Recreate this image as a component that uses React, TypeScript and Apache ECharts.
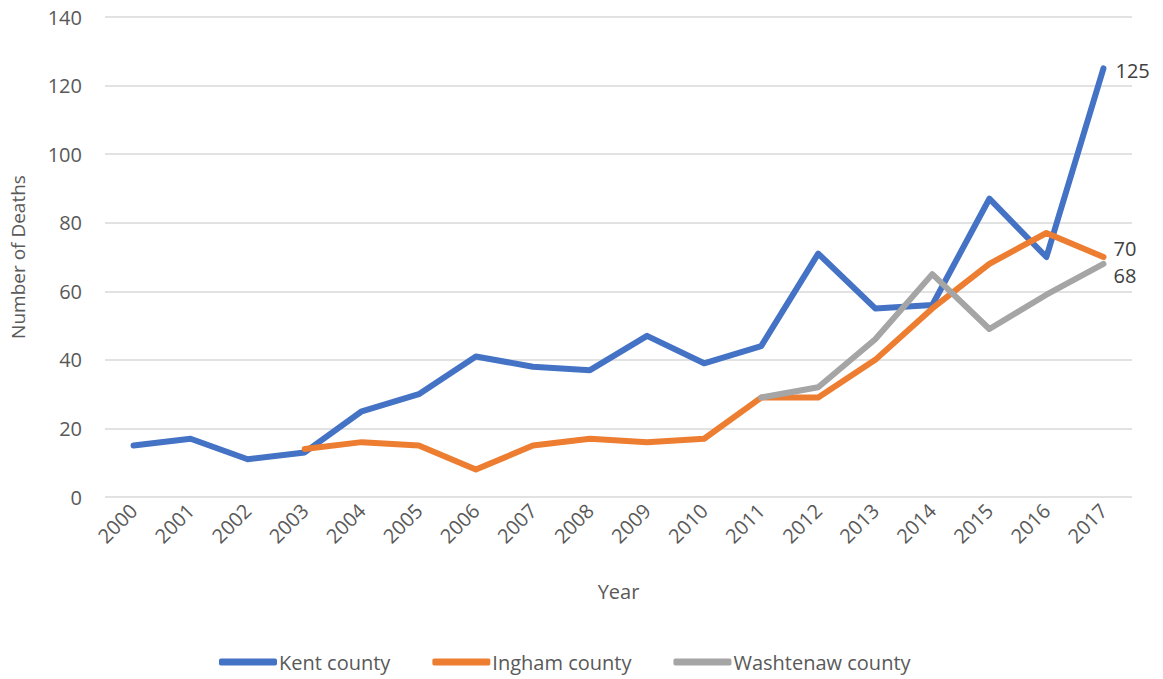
import React, { useEffect, useRef } from "react";
import * as echarts from "echarts";

const years = ["2000","2001","2002","2003","2004","2005","2006","2007","2008","2009","2010","2011","2012","2013","2014","2015","2016","2017"];
const kent = [15, 17, 11, 13, 25, 30, 41, 38, 37, 47, 39, 44, 71, 55, 56, 87, 70, 125];
const ingham = [null, null, null, 14, 16, 15, 8, 15, 17, 16, 17, 29, 29, 40, 55, 68, 77, 70];
const washtenaw = [null, null, null, null, null, null, null, null, null, null, null, 29, 32, 46, 65, 49, 59, 68];
const seriesNames = ["Kent county", "Ingham county", "Washtenaw county"];
const colors = ["#4472C4", "#ED7D31", "#A5A5A5"];

const FONT = "Open Sans";
const TXT = "#595959";

export default function App() {
  const ref = useRef<HTMLDivElement>(null);
  useEffect(() => {
    document.body.style.margin = "0";
    const chart = echarts.init(ref.current!, null, { renderer: "svg" });
    const datas = [kent, ingham, washtenaw];
    const offsets = [[4, 2], [2, -9], [2, 12]];
    chart.setOption({
      animation: false,
      textStyle: { fontFamily: FONT },
      grid: { left: 100, right: 31, top: 17, bottom: 182 },
      legend: {
        left: 214,
        top: 647,
        itemWidth: 58,
        itemHeight: 7,
        itemGap: 42,
        icon: "roundRect",
        textStyle: { color: TXT, fontSize: 20, fontFamily: FONT, padding: [0, 0, 0, -3] },
        data: seriesNames,
      },
      xAxis: {
        type: "category",
        data: years,
        boundaryGap: true,
        axisLine: { show: false },
        axisTick: { show: false },
        axisLabel: { rotate: 45, color: TXT, fontSize: 20, fontFamily: FONT, margin: 10 },
        name: "Year",
        nameLocation: "middle",
        nameGap: 84,
        nameTextStyle: { color: TXT, fontSize: 20, fontFamily: FONT },
      },
      yAxis: {
        type: "value",
        min: 0,
        max: 140,
        interval: 20,
        axisLine: { show: false },
        axisTick: { show: false },
        splitLine: { lineStyle: { color: "#D9D9D9", width: 1.5 } },
        axisLabel: { color: TXT, fontSize: 20, fontFamily: FONT, margin: 23 },
        name: "Number of Deaths",
        nameLocation: "middle",
        nameGap: 78,
        nameTextStyle: { color: TXT, fontSize: 19, fontFamily: FONT },
      },
      series: datas.map((d, i) => ({
        name: seriesNames[i],
        type: "line",
        data: d,
        symbol: "none",
        connectNulls: false,
        lineStyle: { color: colors[i], width: 6, cap: "round", join: "round" },
        itemStyle: { color: colors[i] },
        endLabel: {
          show: true,
          offset: offsets[i],
          color: "#404040",
          fontSize: 20,
          fontFamily: FONT,
          formatter: "{c}",
        },
      })),
    });
    return () => chart.dispose();
  }, []);
  return <div ref={ref} style={{ width: 1163, height: 679 }} />;
}
